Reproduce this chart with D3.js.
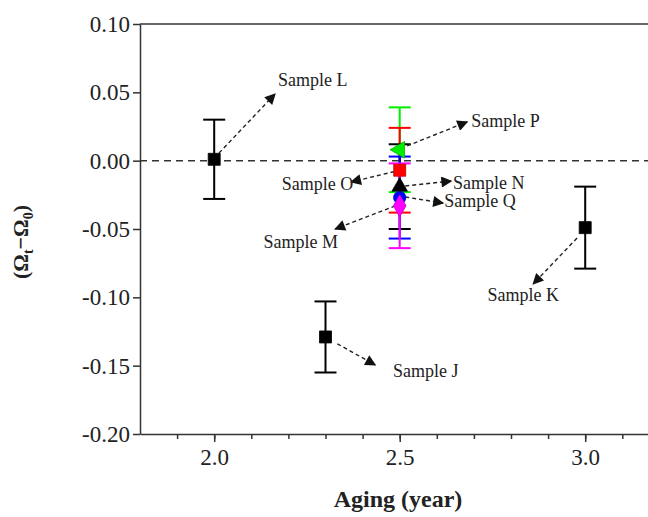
<!DOCTYPE html>
<html>
<head>
<meta charset="utf-8">
<script src="https://cdn.jsdelivr.net/npm/d3@7"></script>
<style>
  body { margin: 0; background: #fff; }
  svg text { font-family: "Liberation Serif", "Times New Roman", serif; }
</style>
</head>
<body>
<svg id="chart" width="648" height="517"></svg>
<script>
// samples: aging year, (Ωt-Ω0) value, error, marker, colour
const sampleNames = ['L', 'J', 'K', 'P', 'O', 'N', 'Q', 'M'];
const agingYears  = [2.0, 2.3, 3.0, 2.5, 2.5, 2.5, 2.5, 2.5];
const omegaDiff   = [0.001, -0.129, -0.049, 0.008, -0.007, -0.019, -0.027, -0.033];
const errors      = [0.029, 0.026, 0.030, 0.031, 0.031, 0.031, 0.030, 0.031];
const markerTypes = ['square', 'square', 'square', 'triLeft', 'square', 'triUp', 'circle', 'diamond'];
const markerColors = ['#000', '#000', '#000', '#00ee00', '#ff0000', '#000', '#0000ff', '#ff00ff'];

// annotation arrows (data coords): start, tip, label position
const annStart = [[2.013, 0.0056], [2.332, -0.134], [2.978, -0.0566], [2.520, 0.0108], [2.504, -0.0068], [2.515, -0.0185], [2.515, -0.0266], [2.488, -0.0331]];
const annTip   = [[2.164, 0.0488], [2.434, -0.1495], [2.860, -0.0902], [2.682, 0.0284], [2.369, -0.0156], [2.639, -0.0149], [2.617, -0.0310], [2.326, -0.0500]];
const annLabel = [[2.172, 0.059], [2.482, -0.154], [2.833, -0.0983], [2.693, 0.029], [2.375, -0.0171], [2.644, -0.0163], [2.620, -0.0295], [2.334, -0.0595]];
const annAnchor = ['start', 'start', 'middle', 'start', 'end', 'start', 'start', 'end'];

const yTicks = [0.10, 0.05, 0.00, -0.05, -0.10, -0.15, -0.20];
const xTicks = [2.0, 2.5, 3.0];
const xMinorTicks = [1.9, 2.0, 2.1, 2.2, 2.3, 2.4, 2.5, 2.6, 2.7, 2.8, 2.9, 3.0, 3.1];

const svg = d3.select('#chart');
const margin = { left: 140, top: 24, bottom: 434 };

const x = d3.scaleLinear().domain([1.8, 3.2]).range([margin.left, margin.left + 1.4 * 371]);
const y = d3.scaleLinear().domain([-0.2, 0.1]).range([margin.bottom, margin.top]);

// frame top line
svg.append('line')
    .attr('x1', margin.left).attr('x2', 660)
    .attr('y1', margin.top).attr('y2', margin.top)
    .attr('stroke', '#333').attr('stroke-width', 1.5);

// zero line
svg.append('line')
    .attr('x1', margin.left).attr('x2', 660)
    .attr('y1', y(0)).attr('y2', y(0))
    .attr('stroke', '#333').attr('stroke-width', 1.5)
    .attr('stroke-dasharray', '7,5');

const fmt = v => d3.format('.2f')(v).replace('−', '-');

// y axis
const yAxis = svg.append('g')
    .attr('transform', `translate(${margin.left},0)`)
    .call(d3.axisLeft(y).tickValues(yTicks).tickFormat(fmt).tickSize(7).tickSizeOuter(0));
yAxis.attr('font-family', null);
yAxis.select('.domain').attr('stroke', '#333').attr('stroke-width', 1.5);
yAxis.selectAll('.tick line').attr('stroke', '#333').attr('stroke-width', 1.5);
yAxis.selectAll('text').attr('font-size', 23).attr('fill', '#222').attr('x', -10);

// x axis
const xAxisG = svg.append('g')
    .attr('transform', `translate(0,${margin.bottom})`)
    .call(d3.axisBottom(x).tickValues(xMinorTicks).tickFormat('').tickSize(5).tickSizeOuter(0));
xAxisG.select('.domain').attr('stroke', '#333').attr('stroke-width', 1.5);
xAxisG.selectAll('.tick line').attr('stroke', '#333').attr('stroke-width', 1.5);

const xMajor = svg.append('g')
    .attr('transform', `translate(0,${margin.bottom})`)
    .call(d3.axisBottom(x).tickValues(xTicks).tickFormat(d3.format('.1f')).tickSize(8));
xMajor.attr('font-family', null);
xMajor.select('.domain').remove();
xMajor.selectAll('.tick line').attr('stroke', '#333').attr('stroke-width', 1.5);
xMajor.selectAll('text').attr('font-size', 23).attr('fill', '#222').attr('y', 15);

// axis titles
svg.append('text')
    .attr('x', 398).attr('y', 507)
    .attr('text-anchor', 'middle')
    .attr('font-size', 24).attr('font-weight', 'bold').attr('fill', '#222')
    .text('Aging (year)');

const yt = svg.append('text')
    .attr('transform', 'translate(28,242) rotate(-90)')
    .attr('text-anchor', 'middle')
    .attr('font-size', 22).attr('font-weight', 'bold').attr('fill', '#222');
yt.append('tspan').text('(Ω');
yt.append('tspan').attr('font-size', 14).attr('dy', 5).text('t');
yt.append('tspan').attr('dy', -5).text('−Ω');
yt.append('tspan').attr('font-size', 14).attr('dy', 5).text('0');
yt.append('tspan').attr('dy', -5).text(')');

// data rows
const data = sampleNames.map((name, i) => ({
    name, year: agingYears[i], value: omegaDiff[i], err: errors[i],
    marker: markerTypes[i], color: markerColors[i],
    start: annStart[i], tip: annTip[i], label: annLabel[i], anchor: annAnchor[i]
}));

// error bars
const eb = svg.append('g').selectAll('g').data(data).enter().append('g')
    .attr('stroke', d => d.color).attr('stroke-width', 2);
eb.append('line')
    .attr('x1', d => x(d.year)).attr('x2', d => x(d.year))
    .attr('y1', d => y(d.value + d.err)).attr('y2', d => y(d.value - d.err));
eb.append('line')
    .attr('x1', d => x(d.year) - 11).attr('x2', d => x(d.year) + 11)
    .attr('y1', d => y(d.value + d.err)).attr('y2', d => y(d.value + d.err));
eb.append('line')
    .attr('x1', d => x(d.year) - 11).attr('x2', d => x(d.year) + 11)
    .attr('y1', d => y(d.value - d.err)).attr('y2', d => y(d.value - d.err));

// arrowhead
svg.append('defs').append('marker')
    .attr('id', 'arrow')
    .attr('viewBox', '0 0 10 10')
    .attr('refX', 9).attr('refY', 5)
    .attr('markerWidth', 13).attr('markerHeight', 11)
    .attr('markerUnits', 'userSpaceOnUse')
    .attr('orient', 'auto')
    .append('path').attr('d', 'M0,0L10,5L0,10Z').attr('fill', '#111');

// annotation arrows
svg.append('g').selectAll('line').data(data).enter().append('line')
    .attr('x1', d => x(d.start[0])).attr('y1', d => y(d.start[1]))
    .attr('x2', d => x(d.tip[0])).attr('y2', d => y(d.tip[1]))
    .attr('stroke', '#222').attr('stroke-width', 1.4)
    .attr('stroke-dasharray', '4,3')
    .attr('marker-end', 'url(#arrow)');

// markers
const symbolFor = {
    square: d3.symbol().type(d3.symbolSquare).size(144),
    triLeft: d3.symbol().type(d3.symbolTriangle).size(120),
    triUp: d3.symbol().type(d3.symbolTriangle).size(105),
    circle: d3.symbol().type(d3.symbolCircle).size(120),
    diamond: d3.symbol().type(d3.symbolDiamond).size(140)
};
svg.append('g').selectAll('path').data(data).enter().append('path')
    .attr('d', d => symbolFor[d.marker]())
    .attr('transform', d => `translate(${x(d.year)},${y(d.value)})` + (d.marker === 'triLeft' ? ' rotate(-90)' : ''))
    .attr('fill', d => d.color)
    .attr('stroke', d => d.color === '#000' ? '#000' : d3.color(d.color).darker(0.8))
    .attr('stroke-width', 0.8);

// labels
svg.append('g').selectAll('text').data(data).enter().append('text')
    .attr('x', d => x(d.label[0])).attr('y', d => y(d.label[1]))
    .attr('dy', '0.35em')
    .attr('text-anchor', d => d.anchor)
    .attr('font-size', 18).attr('fill', '#222')
    .text(d => 'Sample ' + d.name);
</script>
</body>
</html>
